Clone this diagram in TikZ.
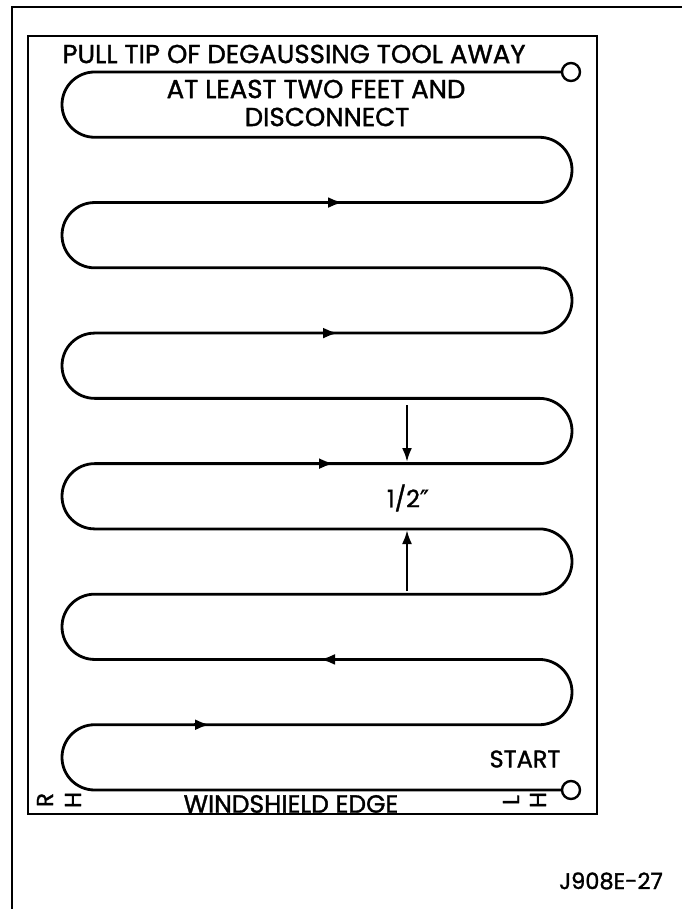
\documentclass[tikz,border=0pt]{standalone}
\usepackage{fontspec}
\setmainfont{Poppins}[FakeBold=1.4]
\newfontfamily\dejavu{DejaVu Sans}[FakeBold=1.2]
\usetikzlibrary{arrows.meta}
\begin{document}
\begin{tikzpicture}[x=1pt,y=-1pt,
  wire/.style={line width=2.8pt, line join=round},
  frameline/.style={line width=1.3pt},
  lbl/.style={font=\fontsize{26}{28}\selectfont, inner sep=0pt, anchor=center},
  smalllbl/.style={font=\fontsize{24}{26}\selectfont, inner sep=0pt, anchor=center},
  endring/.style={circle, draw, line width=2.4pt, minimum size=18pt, inner sep=0pt, fill=white},
  flowtip/.style={line width=2.8pt, -{Latex[length=15pt,width=11pt]}},
  dimline/.style={line width=2.4pt, -{Latex[length=14pt,width=10pt]}},
  sidelbl/.style={font=\fontsize{23}{25}\selectfont, inner sep=0pt, rotate=90},
]
\useasboundingbox (0,0) rectangle (682,909);
\draw[frameline] (12,909) -- (12,7) -- (682,7);
\draw[frameline] (28,36) rectangle (597,814);

% end rings
\node[endring] (s) at (571,790) {};
\node[endring] (e) at (571,72) {};

% serpentine path
\draw[wire] (s.west) -- (94.64,790)
  arc[start angle=270,end angle=90,radius=32.64pt] -- (539.36,724.73)
  arc[start angle=-90,end angle=90,radius=32.64pt] -- (94.64,659.45)
  arc[start angle=270,end angle=90,radius=32.64pt] -- (539.36,594.18)
  arc[start angle=-90,end angle=90,radius=32.64pt] -- (94.64,528.91)
  arc[start angle=270,end angle=90,radius=32.64pt] -- (539.36,463.64)
  arc[start angle=-90,end angle=90,radius=32.64pt] -- (94.64,398.36)
  arc[start angle=270,end angle=90,radius=32.64pt] -- (539.36,333.09)
  arc[start angle=-90,end angle=90,radius=32.64pt] -- (94.64,267.82)
  arc[start angle=270,end angle=90,radius=32.64pt] -- (539.36,202.55)
  arc[start angle=-90,end angle=90,radius=32.64pt] -- (94.64,137.27)
  arc[start angle=270,end angle=90,radius=32.64pt] -- (e.west);

% direction arrows
\coordinate (a2) at (343,202.55);
\coordinate (a4) at (338,333.09);
\coordinate (a6) at (334,463.64);
\coordinate (a9) at (320,659.45);
\coordinate (a10) at (210,724.73);
\draw[flowtip] ([xshift=-16pt]a2) -- (a2);
\draw[flowtip] ([xshift=-16pt]a4) -- (a4);
\draw[flowtip] ([xshift=-16pt]a6) -- (a6);
\draw[flowtip] ([xshift=16pt]a9) -- (a9);
\draw[flowtip] ([xshift=-16pt]a10) -- (a10);

% dimension arrows
\coordinate (d1) at (407,405);
\coordinate (d1t) at (407,462);
\coordinate (d2) at (407,591);
\coordinate (d2t) at (407,530);
\draw[dimline] (d1) -- (d1t);
\draw[dimline] (d2) -- (d2t);
\node[smalllbl] (half) at (408,498) {1/2{\dejavu ″}};

% texts
\node[lbl] (t1) at (294,54) {PULL TIP OF DEGAUSSING TOOL AWAY};
\node[lbl] (t2) at (316,89) {AT LEAST TWO FEET AND};
\node[lbl] (t3) at (327,117) {DISCONNECT};
\node[smalllbl] (start) at (525,759) {START};
\node[font=\fontsize{25}{27}\selectfont, inner sep=0pt] (ws) at (291,804) {WINDSHIELD EDGE};
\node[sidelbl] (r1) at (45,800) {R};
\node[sidelbl] (h1) at (73,800) {H};
\node[sidelbl] (l2) at (511,800) {L};
\node[sidelbl] (h2) at (538,800) {H};
\node[font=\fontsize{22.5}{24}\selectfont, inner sep=0pt] (fig) at (611,881) {J908E-27};
\end{tikzpicture}
\end{document}
